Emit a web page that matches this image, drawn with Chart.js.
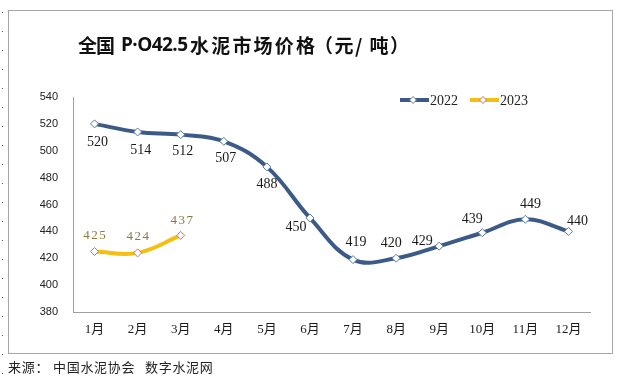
<!DOCTYPE html>
<html><head><meta charset="utf-8">
<script src="https://cdn.jsdelivr.net/npm/chart.js@4/dist/chart.umd.min.js"></script>
<style>html,body{margin:0;padding:0;background:#fff;}canvas{display:block;}</style>
</head><body>
<div style="width:621px;height:383px;"><canvas id="c" width="621" height="383"></canvas></div>
<script>
const categories = ['1月','2月','3月','4月','5月','6月','7月','8月','9月','10月','11月','12月'];
const values2022 = [520,514,512,507,488,450,419,420,429,439,449,440];
const values2023 = [425,424,437,null,null,null,null,null,null,null,null,null];
const yTicks = [380,400,420,440,460,480,500,520,540];
const seriesNames = ['2022','2023'];
const titleParts = ['全国','P·O42.5','水泥市场价格','（元/ 吨）'];
const sourceParts = ['来源：','中国水泥协会','数字水泥网'];

// label offsets (px) relative to each point
const off2022 = [[3,18],[3,18],[2,17],[2,17],[0,17],[-14,9],[3,-17],[-5,-15],[-17,-5],[-10,-13],[5,-15],[9,-10]];
const off2023 = [[0,-16],[0,-16],[1,-15]];
// title segment spans [left,right]
const titleSpan = [[78,115],[121,188],[190,315],[314,409]];
const titleFonts = ['"Noto Sans CJK SC"','"Open Sans"','"Noto Sans CJK SC"','"Noto Sans CJK SC"'];

const C2022 = '#3B5B86', C2023 = '#F4BE12';

function fitText(ctx,t,x0,x1,y){
  ctx.letterSpacing='0px';
  const w=ctx.measureText(t).width;
  const n=[...t].length;
  const s=n>1?(x1-x0-w)/(n-1):0;
  ctx.letterSpacing=s.toFixed(2)+'px';
  ctx.fillText(t,x0,y);
  ctx.letterSpacing='0px';
}

const deco = {
  id:'deco',
  beforeDraw(chart){
    const ctx = chart.ctx;
    ctx.save();
    ctx.fillStyle='#fff'; ctx.fillRect(0,0,621,383);
    ctx.strokeStyle='#a6a6a6'; ctx.lineWidth=1;
    ctx.strokeRect(8.5,10.5,604,343);
    ctx.strokeStyle='#555'; ctx.setLineDash([1,18]);
    ctx.beginPath(); ctx.moveTo(2.5,12); ctx.lineTo(2.5,383); ctx.stroke();
    ctx.setLineDash([]);
    ctx.restore();
  },
  afterDraw(chart){
    const ctx = chart.ctx;
    ctx.save();
    // title
    ctx.fillStyle='#111';
    ctx.textBaseline='middle'; ctx.textAlign='left';
    titleParts.forEach((t,i)=>{ctx.font='bold 19px '+titleFonts[i]; fitText(ctx,t,titleSpan[i][0],titleSpan[i][1],46);});
    // source
    ctx.font='13px "Noto Sans CJK SC"';
    ctx.fillStyle='#222';
    ctx.letterSpacing='0.7px';
    const sx=[8,53,145];
    sourceParts.forEach((t,i)=>ctx.fillText(t,sx[i],367));
    ctx.letterSpacing='0px';
    // legend
    const items=[[C2022,'#5a7aa6',400],[C2023,'#c9706a',470]];
    items.forEach((it,i)=>{
      const x=it[2], y=100;
      ctx.strokeStyle=it[0]; ctx.lineWidth=4;
      ctx.beginPath(); ctx.moveTo(x,y); ctx.lineTo(x+29,y); ctx.stroke();
      ctx.fillStyle='#fff'; ctx.strokeStyle=it[1]; ctx.lineWidth=1;
      ctx.beginPath(); ctx.moveTo(x+13,y-3.5); ctx.lineTo(x+16.5,y); ctx.lineTo(x+13,y+3.5); ctx.lineTo(x+9.5,y); ctx.closePath(); ctx.fill(); ctx.stroke();
      ctx.fillStyle='#222'; ctx.font='14px "Liberation Serif"';
      ctx.textAlign='left'; ctx.fillText(seriesNames[i],x+30,y+1);
    });
    // data labels
    ctx.textAlign='center'; ctx.textBaseline='middle';
    const m0=chart.getDatasetMeta(0), m1=chart.getDatasetMeta(1);
    ctx.font='14px "Liberation Serif"'; ctx.fillStyle='#1a1a1a';
    m0.data.forEach((p,i)=>{ ctx.fillText(String(values2022[i]), p.x+off2022[i][0], p.y+off2022[i][1]); });
    ctx.fillStyle='#8c7a3c'; ctx.font='13px "Liberation Serif"';
    ctx.letterSpacing='1.5px';
    m1.data.forEach((p,i)=>{ if(values2023[i]==null) return; ctx.fillText(String(values2023[i]), p.x+off2023[i][0]+0.75, p.y+off2023[i][1]); });
    ctx.restore();
  }
};

new Chart(document.getElementById('c'),{
  type:'line',
  data:{labels:categories,datasets:[
    {label:seriesNames[0],data:values2022,borderColor:C2022,borderWidth:4,tension:0.4,
     pointStyle:'rectRot',pointRadius:4,pointBackgroundColor:'#fff',pointBorderColor:'#5a7aa6',pointBorderWidth:1},
    {label:seriesNames[1],data:values2023,borderColor:C2023,borderWidth:4,tension:0.4,spanGaps:false,
     pointStyle:'rectRot',pointRadius:4,pointBackgroundColor:'#fff',pointBorderColor:'#c9706a',pointBorderWidth:1}
  ]},
  options:{
    responsive:false,animation:false,
    layout:{padding:{left:0,right:31,top:97,bottom:0}},
    plugins:{legend:{display:false},tooltip:{enabled:false},title:{display:false}},
    scales:{
      x:{offset:true,grid:{display:false,drawTicks:false},border:{display:true,color:'#a0a0a0',width:1},
         ticks:{color:'#1a1a1a',font:{family:'"Liberation Serif","Noto Sans CJK SC"',size:13},padding:10,maxRotation:0},
         afterFit(s){s.height=71;}},
      y:{min:380,max:540,grid:{display:false,drawTicks:false},border:{display:true,color:'#a0a0a0',width:1},
         afterBuildTicks(s){s.ticks=yTicks.map(v=>({value:v}));},
         ticks:{color:'#222',font:{family:'"Liberation Sans"',size:11},padding:15},
         afterFit(s){s.width=73;}}
    }
  },
  plugins:[deco]
});
</script>
</body></html>
